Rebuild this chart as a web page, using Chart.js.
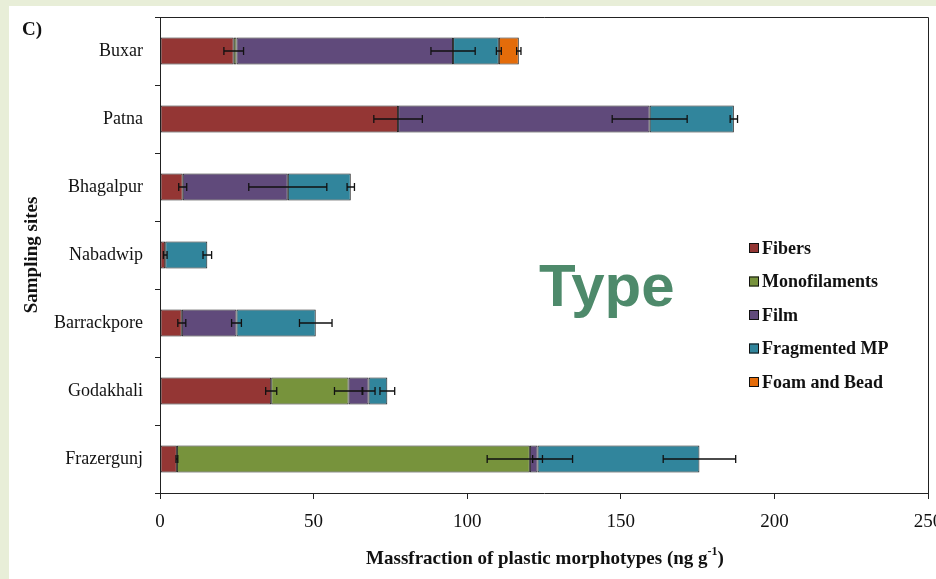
<!DOCTYPE html>
<html>
<head>
<meta charset="utf-8">
<script src="https://cdn.jsdelivr.net/npm/chart.js@4.4.0/dist/chart.umd.min.js"></script>
<style>
  html, body { margin: 0; padding: 0; width: 936px; height: 579px; overflow: hidden; background: #e8eed8; }
  #panel { position: absolute; left: 9px; top: 6px; width: 936px; height: 573px; background: #fff; }
  #tag { position: absolute; left: 22px; top: 18px; font: bold 19px "Liberation Serif", serif; color: #111; }
  #type { position: absolute; left: 539px; top: 251px; font: bold 60px "Liberation Sans", Arial, sans-serif; color: #4e8a6b; }
</style>
</head>
<body>
<div id="panel"><canvas id="myChart"></canvas></div>
<div id="tag">C)</div>
<div id="type">Type</div>
<script>
// sites, top to bottom
const sites = ["Buxar", "Patna", "Bhagalpur", "Nabadwip", "Barrackpore", "Godakhali", "Frazergunj"];

// mass fraction per morphotype (ng g-1) and error bars
const fibers    = [24.0, 77.5, 7.4, 1.7, 7.1, 36.2, 5.5];
const fibersErr = [3.2, 7.9, 1.3, 0.6, 1.3, 1.8, 0.3];
const mono      = [0.9, 0, 0, 0, 0, 25.2, 114.9];
const monoErr   = [0, 0, 0, 0, 0, 4.6, 13.9];
const film      = [70.5, 81.9, 34.2, 0, 17.8, 6.5, 2.5];
const filmErr   = [7.2, 12.2, 12.7, 0, 1.6, 2.1, 1.6];
const frag      = [14.9, 27.4, 20.5, 13.7, 25.8, 6.1, 52.7];
const fragErr   = [0.8, 1.2, 1.2, 1.4, 5.3, 2.4, 11.8];
const foam      = [6.5, 0, 0, 0, 0, 0, 0];
const foamErr   = [0.7, 0, 0, 0, 0, 0, 0];

const xTicks = [0, 50, 100, 150, 200, 250];

const serif = '"Liberation Serif", "Times New Roman", serif';

// whiskers at the end of every stacked segment
const errorBars = {
  id: 'errorBars',
  afterDatasetsDraw(chart) {
    const ctx = chart.ctx;
    const x = chart.scales.x;
    ctx.save();
    ctx.strokeStyle = '#111';
    ctx.lineWidth = 1.3;
    chart.data.datasets.forEach((ds, i) => {
      const meta = chart.getDatasetMeta(i);
      ds.data.forEach((v, j) => {
        const err = ds.errors[j];
        if (!err) return;
        let end = 0;
        for (let k = 0; k <= i; k++) end += chart.data.datasets[k].data[j] || 0;
        const y = meta.data[j].y;
        const x1 = x.getPixelForValue(end - err);
        const x2 = x.getPixelForValue(end + err);
        ctx.beginPath();
        ctx.moveTo(x1, y); ctx.lineTo(x2, y);
        ctx.moveTo(x1, y - 4); ctx.lineTo(x1, y + 4);
        ctx.moveTo(x2, y - 4); ctx.lineTo(x2, y + 4);
        ctx.stroke();
      });
    });
    ctx.restore();
  }
};

// top/right frame and the legend inside the plot
const frameLegend = {
  id: 'frameLegend',
  afterDraw(chart) {
    const ctx = chart.ctx;
    const a = chart.chartArea;
    ctx.save();
    ctx.strokeStyle = '#222';
    ctx.lineWidth = 1;
    ctx.beginPath();
    ctx.moveTo(a.left, a.top + 0.5);
    ctx.lineTo(a.right + 0.5, a.top + 0.5);
    ctx.lineTo(a.right + 0.5, a.bottom);
    ctx.stroke();

    ctx.font = 'bold 18px ' + serif;
    ctx.textBaseline = 'middle';
    chart.data.datasets.forEach((ds, i) => {
      const y = 242 + i * 33.5;
      ctx.fillStyle = ds.backgroundColor;
      ctx.fillRect(740, y - 5, 10, 10);
      ctx.strokeStyle = '#111';
      ctx.strokeRect(740.5, y - 4.5, 9, 9);
      ctx.fillStyle = '#111';
      ctx.fillText(ds.label, 753, y + 1);
    });
    ctx.restore();
  }
};

// x title with superscript
const xTitle = {
  id: 'xTitle',
  afterDraw(chart) {
    const ctx = chart.ctx;
    const main = 'Massfraction of plastic morphotypes (ng g';
    ctx.save();
    ctx.fillStyle = '#111';
    ctx.textBaseline = 'alphabetic';
    ctx.font = 'bold 19px ' + serif;
    const w1 = ctx.measureText(main).width;
    ctx.font = 'bold 12px ' + serif;
    const w2 = ctx.measureText('-1').width;
    ctx.font = 'bold 19px ' + serif;
    const w3 = ctx.measureText(')').width;
    let x0 = (chart.chartArea.left + chart.chartArea.right) / 2 - (w1 + w2 + w3) / 2 + 1;
    const y = 558;
    ctx.fillText(main, x0, y);
    ctx.font = 'bold 12px ' + serif;
    ctx.fillText('-1', x0 + w1, y - 9);
    ctx.font = 'bold 19px ' + serif;
    ctx.fillText(')', x0 + w1 + w2, y);
    ctx.restore();
  }
};

const ctx = document.getElementById('myChart').getContext('2d');
const myChart = new Chart(ctx, {
  type: 'bar',
  data: {
    labels: sites,
    datasets: [
      { label: 'Fibers', data: fibers, errors: fibersErr, backgroundColor: '#943634' },
      { label: 'Monofilaments', data: mono, errors: monoErr, backgroundColor: '#77933c' },
      { label: 'Film', data: film, errors: filmErr, backgroundColor: '#604a7b' },
      { label: 'Fragmented MP', data: frag, errors: fragErr, backgroundColor: '#31859c' },
      { label: 'Foam and Bead', data: foam, errors: foamErr, backgroundColor: '#e46c0a' }
    ]
  },
  options: {
    indexAxis: 'y',
    responsive: true,
    maintainAspectRatio: false,
    animation: false,
    layout: { padding: { top: 11, right: 17, left: 0, bottom: 0 } },
    datasets: {
      bar: {
        borderColor: '#1c1c1c',
        borderWidth: 1,
        borderSkipped: false,
        categoryPercentage: 1,
        barPercentage: 0.4
      }
    },
    plugins: {
      legend: { display: false },
      tooltip: { enabled: false }
    },
    scales: {
      x: {
        stacked: true,
        min: 0,
        max: 250,
        afterBuildTicks: scale => { scale.ticks = xTicks.map(v => ({ value: v })); },
        afterFit: scale => { scale.height = 86; scale.paddingLeft = 0; scale.paddingRight = 0; },
        grid: { drawOnChartArea: false, drawTicks: true, tickLength: 6, color: '#222' },
        border: { color: '#222', width: 1 },
        ticks: { color: '#111', font: { family: serif, size: 19 }, padding: 12, maxRotation: 0 }
      },
      y: {
        stacked: true,
        afterFit: scale => { scale.width = 151; scale.paddingTop = 0; scale.paddingBottom = 0; },
        grid: { drawOnChartArea: false, drawTicks: true, tickLength: 5, color: '#222', offset: true },
        border: { color: '#222', width: 1 },
        ticks: { color: '#111', font: { family: serif, size: 18 }, padding: 12 },
        title: {
          display: true,
          text: 'Sampling sites',
          color: '#111',
          font: { family: serif, size: 19, weight: 'bold' },
          padding: { top: 12, bottom: 0 }
        }
      }
    }
  },
  plugins: [errorBars, frameLegend, xTitle]
});
</script>
</body>
</html>
